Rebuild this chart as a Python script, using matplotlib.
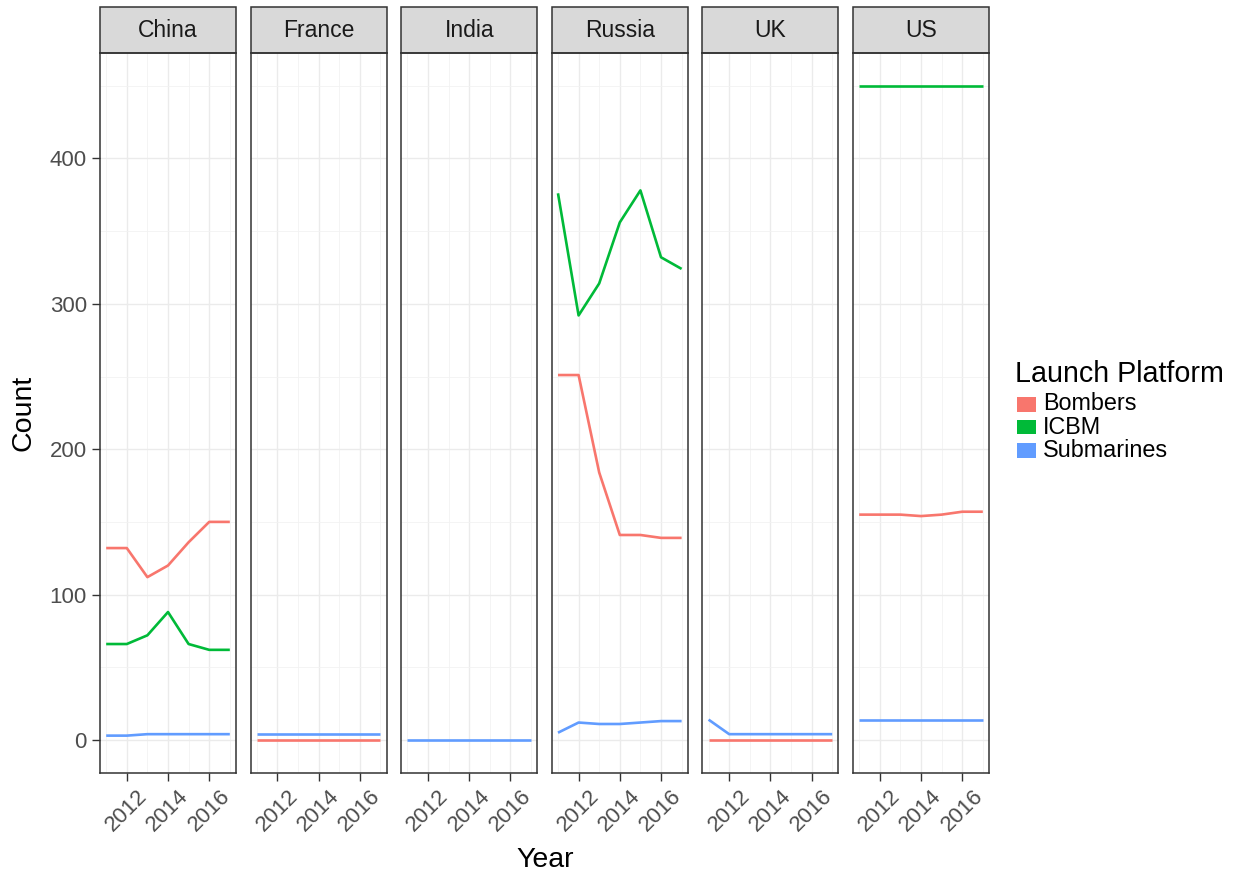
import matplotlib
matplotlib.use("Agg")
import matplotlib.pyplot as plt
from matplotlib.patches import Rectangle
from matplotlib.ticker import MultipleLocator

plt.rcParams['font.family'] = ['Liberation Sans', 'DejaVu Sans']

years = [2011, 2012, 2013, 2014, 2015, 2016, 2017]
countries = ["China", "France", "India", "Russia", "UK", "US"]
platforms = ["Bombers", "ICBM", "Submarines"]
colors = ["#F8766D", "#00BA38", "#619CFF"]

china_bombers = [132, 132, 112, 120, 136, 150, 150]
china_icbm = [66, 66, 72, 88, 66, 62, 62]
china_subs = [3, 3, 4, 4, 4, 4, 4]

france_bombers = [0, 0, 0, 0, 0, 0, 0]
france_subs = [4, 4, 4, 4, 4, 4, 4]

india_subs = [0, 0, 0, 0, 0, 0, 0]

russia_bombers = [251, 251, 184, 141, 141, 139, 139]
russia_icbm = [376, 292, 314, 356, 378, 332, 324]
russia_subs = [5, 12, 11, 11, 12, 13, 13]

uk_bombers = [0, 0, 0, 0, 0, 0, 0]
uk_subs = [14, 4, 4, 4, 4, 4, 4]

us_bombers = [155, 155, 155, 154, 155, 157, 157]
us_icbm = [450, 450, 450, 450, 450, 450, 450]
us_subs = [14, 14, 14, 14, 14, 14, 14]

series = {
    "China": {"Bombers": china_bombers, "ICBM": china_icbm, "Submarines": china_subs},
    "France": {"Bombers": france_bombers, "Submarines": france_subs},
    "India": {"Submarines": india_subs},
    "Russia": {"Bombers": russia_bombers, "ICBM": russia_icbm, "Submarines": russia_subs},
    "UK": {"Bombers": uk_bombers, "Submarines": uk_subs},
    "US": {"Bombers": us_bombers, "ICBM": us_icbm, "Submarines": us_subs},
}

W, H = 1235, 876
fig = plt.figure(figsize=(W / 100, H / 100), dpi=100)

panel_top, panel_bot = 53, 772.7
panel_w, step = 136, 150.6
strip_h = 46 / (panel_bot - panel_top)

for i, country in enumerate(countries):
    left = 100 + i * step
    ax = fig.add_axes([left / W, (H - panel_bot) / H, panel_w / W, (panel_bot - panel_top) / H])
    for plat, col in zip(platforms, colors):
        if plat in series[country]:
            ax.plot(years, series[country][plat], color=col, lw=1.9, solid_capstyle='butt', zorder=3)

    ax.set_xlim(2010.7, 2017.3)
    ax.set_ylim(-22.5, 472.5)
    ax.yaxis.set_major_locator(MultipleLocator(100))
    ax.yaxis.set_minor_locator(MultipleLocator(50))
    ax.set_xticks([2012, 2014, 2016])
    ax.set_xticks([2011, 2013, 2015, 2017], minor=True)
    ax.set_xticklabels(["2012", "2014", "2016"], rotation=45, ha='center', va='top')
    ax.grid(which='major', color='#EBEBEB', lw=1.0, zorder=0)
    ax.grid(which='minor', color='#F2F2F2', lw=0.6, zorder=0)
    ax.set_axisbelow(True)
    ax.tick_params(which='major', length=5.5, width=1.0, color='#333333',
                   labelsize=16, labelcolor='#4D4D4D', pad=4)
    ax.tick_params(which='minor', length=0)
    if i > 0:
        ax.tick_params(axis='y', which='both', left=False, labelleft=False)
    for sp in ax.spines.values():
        sp.set_color('#333333')
        sp.set_linewidth(1.1)

    # facet strip on top of each panel
    ax.add_patch(Rectangle((0, 1), 1, strip_h, transform=ax.transAxes, clip_on=False,
                           facecolor='#D9D9D9', edgecolor='#333333', lw=1.1))
    ax.text(0.5, 1 + strip_h / 2, country, transform=ax.transAxes, ha='center', va='center',
            fontsize=16.5, color='#1A1A1A')

fig.text(545 / W, 1 - 860 / H, "Year", ha='center', va='center', fontsize=20.5)
fig.text(23 / W, 1 - 413 / H, "Count", ha='center', va='center', rotation=90, fontsize=20.5)

# legend
fig.text(1015 / W, 1 - 374 / H, "Launch Platform", ha='left', va='center', fontsize=20.6)
for k, (plat, col) in enumerate(zip(platforms, colors)):
    yc = 404 + k * 23
    fig.patches.append(Rectangle((1017 / W, 1 - (yc + 7.5) / H), 19 / W, 15 / H,
                                 transform=fig.transFigure, facecolor=col, edgecolor='none'))
    fig.text(1043 / W, 1 - yc / H, plat, ha='left', va='center', fontsize=16.8)

fig.savefig("out.png", dpi=100, facecolor='white')
